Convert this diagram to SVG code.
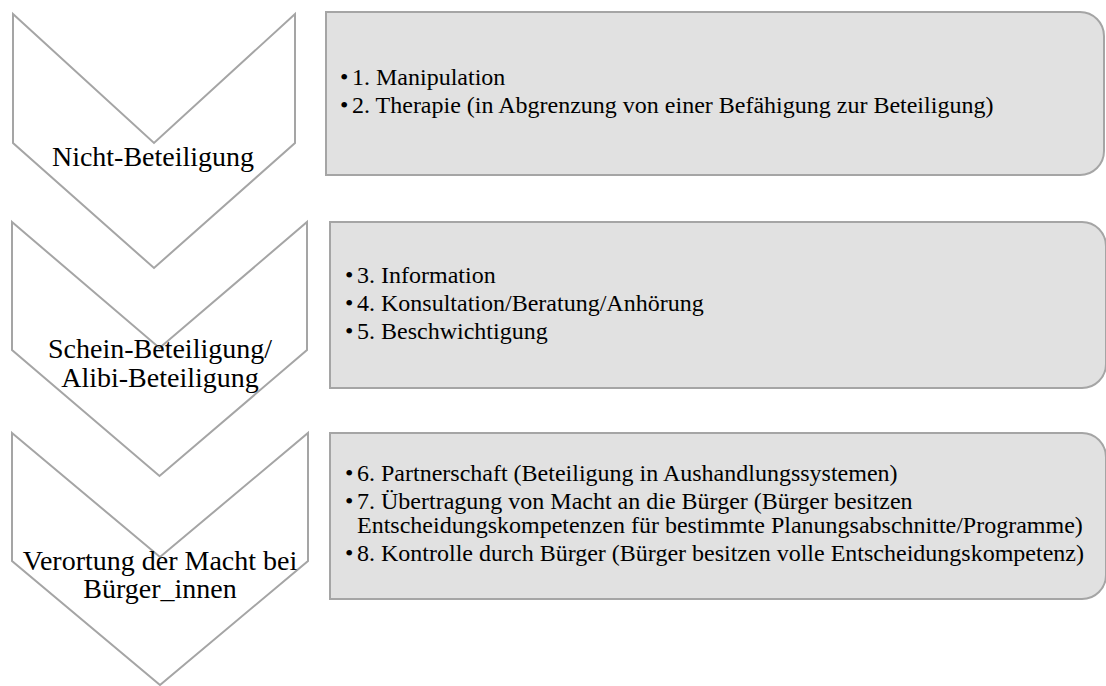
<svg xmlns="http://www.w3.org/2000/svg" width="1106" height="686" viewBox="0 0 1106 686">
<style>
.chev{fill:#ffffff;stroke:#a5a5a5;stroke-width:2;stroke-linejoin:miter}
.box{fill:#e1e1e1;stroke:#a5a5a5;stroke-width:2}
.lbl{font-size:28px;fill:#000;text-anchor:middle}
.txt{font-size:24px;fill:#000}
</style>
<rect width="1106" height="686" fill="#ffffff"/>
<g id="connectors"></g>
<g font-family="'Liberation Serif', 'DejaVu Serif', 'Times New Roman', serif">
<g id="chevron1">
<polygon class="chev" points="13,14 154,143 295,14 295,143 154,268 13,143"/>
<text class="lbl" x="153" y="166">Nicht-Beteiligung</text>
</g>
<g id="box1">
<path class="box" d="M326,12 H1080 A24,24 0 0 1 1104,36 V151 A24,24 0 0 1 1080,175 H326 Z"/>
<text class="txt" x="340" y="85">•</text><text class="txt" x="352" y="85">1. Manipulation</text>
<text class="txt" x="340" y="113">•</text><text class="txt" x="352" y="113">2. Therapie (in Abgrenzung von einer Befähigung zur Beteiligung)</text>
</g>
<g id="chevron2">
<polygon class="chev" points="12,222 159.5,348 307,222 307,350 159.5,476 12,350"/>
<text class="lbl" x="160" y="358">Schein-Beteiligung/</text>
<text class="lbl" x="160" y="387">Alibi-Beteiligung</text>
</g>
<g id="box2">
<path class="box" d="M330,222 H1082 A24,24 0 0 1 1106,246 V364 A24,24 0 0 1 1082,388 H330 Z"/>
<text class="txt" x="345" y="283">•</text><text class="txt" x="357" y="283">3. Information</text>
<text class="txt" x="345" y="311">•</text><text class="txt" x="357" y="311">4. Konsultation/Beratung/Anhörung</text>
<text class="txt" x="345" y="339">•</text><text class="txt" x="357" y="339">5. Beschwichtigung</text>
</g>
<g id="chevron3">
<polygon class="chev" points="12,433 160,557 308,433 308,561 160,685 12,561"/>
<text class="lbl" x="160" y="570">Verortung der Macht bei</text>
<text class="lbl" x="160" y="598">Bürger_innen</text>
</g>
<g id="box3">
<path class="box" d="M330,433 H1082 A24,24 0 0 1 1106,457 V575 A24,24 0 0 1 1082,599 H330 Z"/>
<text class="txt" x="345" y="481">•</text><text class="txt" x="357" y="481">6. Partnerschaft (Beteiligung in Aushandlungssystemen)</text>
<text class="txt" x="345" y="509">•</text><text class="txt" x="357" y="509">7. Übertragung von Macht an die Bürger (Bürger besitzen</text>
<text class="txt" x="357" y="533">Entscheidungskompetenzen für bestimmte Planungsabschnitte/Programme)</text>
<text class="txt" x="345" y="561">•</text><text class="txt" x="357" y="561">8. Kontrolle durch Bürger (Bürger besitzen volle Entscheidungskompetenz)</text>
</g>
</g>
</svg>
